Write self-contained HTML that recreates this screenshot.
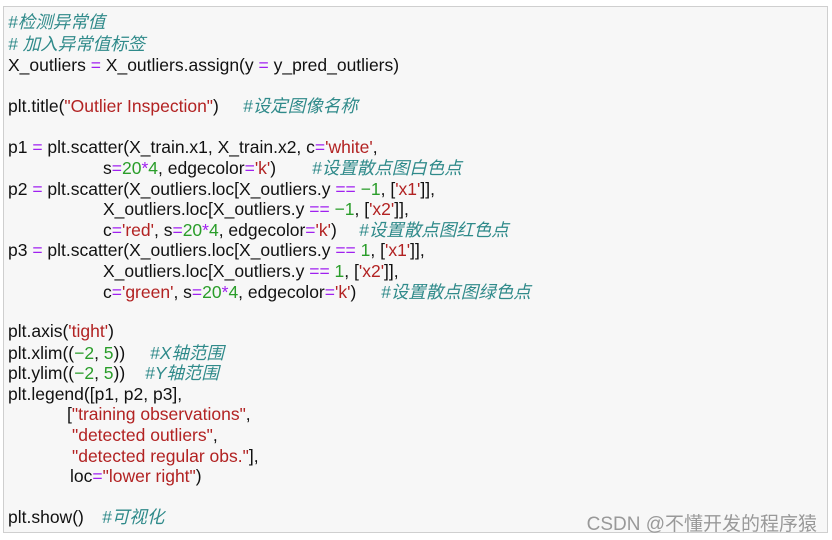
<!DOCTYPE html>
<html><head><meta charset="utf-8"><style>
body{margin:0;width:832px;height:540px;background:#fff;overflow:hidden}
#box{position:absolute;left:3px;top:6px;width:825px;height:527px;background:#f7f7f7;border:1px solid #cfcfcf;box-sizing:border-box}
.l{position:absolute;white-space:pre;font-family:"Liberation Sans","Noto Sans CJK SC",sans-serif;font-size:17.5px;color:#111;line-height:20px;letter-spacing:0}
.c{color:#2f8a8a;font-style:italic}
.s{color:#b22222}
.n{color:#2a9d2a}
.o{color:#a020f0}
.w{position:absolute;right:15px;top:509px;font-family:"Liberation Sans","Noto Sans CJK SC",sans-serif;font-size:19px;color:#999;white-space:pre}
</style></head><body>
<div id="box"></div>
<div class="l c" style="left:8px;top:12px">#检测异常值</div>
<div class="l c" style="left:8px;top:34px"># 加入异常值标签</div>
<div class="l" style="left:8px;top:55px">X_outliers <span class="o">=</span> X_outliers.assign(y <span class="o">=</span> y_pred_outliers)</div>
<div class="l" style="left:8px;top:96px">plt.title(<span class="s">"Outlier Inspection"</span>)</div>
<div class="l c" style="left:243px;top:96px">#设定图像名称</div>
<div class="l" style="left:8px;top:137px">p1 <span class="o">=</span> plt.scatter(X_train.x1, X_train.x2, c<span class="o">=</span><span class="s">'white'</span>,</div>
<div class="l" style="left:103px;top:158px">s<span class="o">=</span><span class="n">20</span><span class="o">*</span><span class="n">4</span>, edgecolor<span class="o">=</span><span class="s">'k'</span>)</div>
<div class="l c" style="left:312px;top:158px">#设置散点图白色点</div>
<div class="l" style="left:8px;top:179px">p2 <span class="o">=</span> plt.scatter(X_outliers.loc[X_outliers.y <span class="o">==</span> <span class="n">−1</span>, [<span class="s">'x1'</span>]],</div>
<div class="l" style="left:103px;top:199px">X_outliers.loc[X_outliers.y <span class="o">==</span> <span class="n">−1</span>, [<span class="s">'x2'</span>]],</div>
<div class="l" style="left:103px;top:220px">c<span class="o">=</span><span class="s">'red'</span>, s<span class="o">=</span><span class="n">20</span><span class="o">*</span><span class="n">4</span>, edgecolor<span class="o">=</span><span class="s">'k'</span>)</div>
<div class="l c" style="left:359px;top:220px">#设置散点图红色点</div>
<div class="l" style="left:8px;top:240px">p3 <span class="o">=</span> plt.scatter(X_outliers.loc[X_outliers.y <span class="o">==</span> <span class="n">1</span>, [<span class="s">'x1'</span>]],</div>
<div class="l" style="left:103px;top:261px">X_outliers.loc[X_outliers.y <span class="o">==</span> <span class="n">1</span>, [<span class="s">'x2'</span>]],</div>
<div class="l" style="left:103px;top:282px">c<span class="o">=</span><span class="s">'green'</span>, s<span class="o">=</span><span class="n">20</span><span class="o">*</span><span class="n">4</span>, edgecolor<span class="o">=</span><span class="s">'k'</span>)</div>
<div class="l c" style="left:381px;top:282px">#设置散点图绿色点</div>
<div class="l" style="left:8px;top:321px">plt.axis(<span class="s">'tight'</span>)</div>
<div class="l" style="left:8px;top:343px">plt.xlim((<span class="n">−2</span>, <span class="n">5</span>))</div>
<div class="l c" style="left:150px;top:343px">#X轴范围</div>
<div class="l" style="left:8px;top:363px">plt.ylim((<span class="n">−2</span>, <span class="n">5</span>))</div>
<div class="l c" style="left:145px;top:363px">#Y轴范围</div>
<div class="l" style="left:8px;top:384px">plt.legend([p1, p2, p3],</div>
<div class="l" style="left:67px;top:404px">[<span class="s">"training observations"</span>,</div>
<div class="l" style="left:72px;top:425px"><span class="s">"detected outliers"</span>,</div>
<div class="l" style="left:72px;top:446px"><span class="s">"detected regular obs."</span>],</div>
<div class="l" style="left:70px;top:466px">loc<span class="o">=</span><span class="s">"lower right"</span>)</div>
<div class="l" style="left:8px;top:507px">plt.show()</div>
<div class="l c" style="left:102px;top:507px">#可视化</div>
<div class="w">CSDN @不懂开发的程序猿</div>
</body></html>
